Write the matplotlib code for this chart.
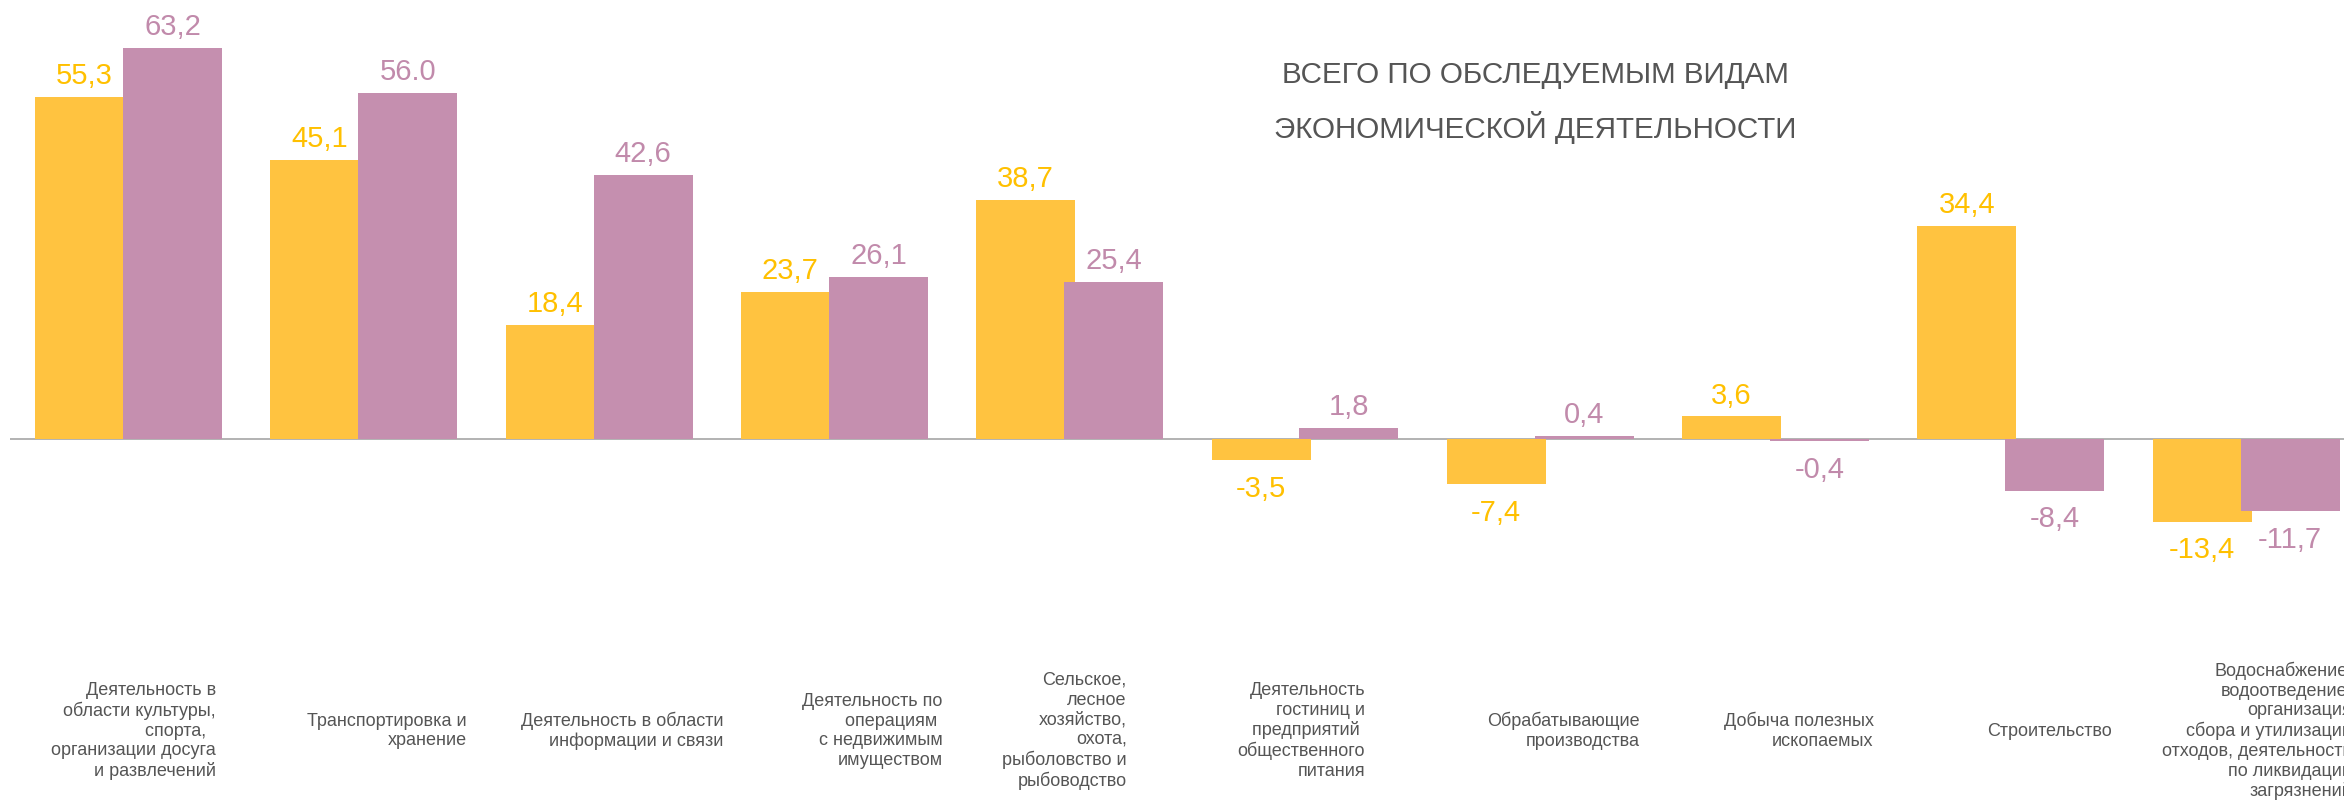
import matplotlib
matplotlib.use("Agg")
import matplotlib.pyplot as plt
import numpy as np

# ---------------- data ----------------
categories = [
    "Деятельность в\nобласти культуры,\nспорта,  \nорганизации досуга\nи развлечений",
    "Транспортировка и\nхранение",
    "Деятельность в области\nинформации и связи",
    "Деятельность по\nоперациям \nс недвижимым\nимуществом",
    "Сельское,\nлесное\nхозяйство,\nохота,\nрыболовство и\nрыбоводство",
    "Деятельность\nгостиниц и\nпредприятий \nобщественного\nпитания",
    "Обрабатывающие\nпроизводства",
    "Добыча полезных\nископаемых",
    "Строительство",
    "Водоснабжение;\nводоотведение,\nорганизация\nсбора и утилизации\nотходов, деятельность\nпо ликвидации\nзагрязнений",
]
series_a = [55.3, 45.1, 18.4, 23.7, 38.7, -3.5, -7.4, 3.6, 34.4, -13.4]
series_b = [63.2, 56.0, 42.6, 26.1, 25.4, 1.8, 0.4, -0.4, -8.4, -11.7]
labels_a = ["55,3", "45,1", "18,4", "23,7", "38,7", "-3,5", "-7,4", "3,6", "34,4", "-13,4"]
labels_b = ["63,2", "56.0", "42,6", "26,1", "25,4", "1,8", "0,4", "-0,4", "-8,4", "-11,7"]
title_lines = ["ВСЕГО ПО ОБСЛЕДУЕМЫМ ВИДАМ", "ЭКОНОМИЧЕСКОЙ ДЕЯТЕЛЬНОСТИ"]

# ---------------- style / layout ----------------
W, H, DPI = 2344, 802, 100
col_a_bar, col_b_bar = "#FFC340", "#C58FAF"
col_a_txt, col_b_txt = "#FFC000", "#C18AAB"
txt_gray = "#555555"
FONT = ["Liberation Sans", "DejaVu Sans"]
plt.rcParams["font.family"] = FONT

px_per_group = 235.3
center0_px = 128.5
zero_px = 438.7
px_per_unit = 6.18
left_px = 10

bar_w = 99 / px_per_group
offset = 44 / px_per_group
# right edge of each category label relative to group centre (px)
label_right_off_px = [87.5, 103, 124, 108, 57, 60, 99, 98, 101, 106]
label_center_y_px = 731

fig = plt.figure(figsize=(W / DPI, H / DPI), dpi=DPI)
ax = fig.add_axes([left_px / W, 0, 1 - left_px / W, 1])
x_left = (left_px - center0_px) / px_per_group
x_right = (W - center0_px) / px_per_group
ax.set_xlim(x_left, x_right)
ax.set_ylim(-(H - zero_px) / px_per_unit, zero_px / px_per_unit)
ax.axis("off")

x = np.arange(len(categories))
ax.axhline(0, color="#A6A6A6", lw=1.2, zorder=1)
bars_a = ax.bar(x - offset, series_a, width=bar_w, color=col_a_bar, zorder=2)
bars_b = ax.bar(x + offset, series_b, width=bar_w, color=col_b_bar, zorder=3)

def annotate(bars, vals, labels, color):
    for b, v, lab in zip(bars, vals, labels):
        cx = b.get_x() + b.get_width() / 2
        if v >= 0:
            ax.annotate(lab, (cx, v), xytext=(0, 5), textcoords="offset points",
                        ha="center", va="bottom", fontsize=21, color=color, zorder=5)
        else:
            ax.annotate(lab, (cx, v), xytext=(0, -10.5), textcoords="offset points",
                        ha="center", va="top", fontsize=21, color=color, zorder=5)

annotate(bars_a, series_a, labels_a, col_a_txt)
annotate(bars_b, series_b, labels_b, col_b_txt)

# category labels
y_lab = (zero_px - label_center_y_px) / px_per_unit
for i, (cat, off) in enumerate(zip(categories, label_right_off_px)):
    ax.text(i + off / px_per_group, y_lab, cat, ha="right", va="center",
            multialignment="right", fontsize=13, color=txt_gray,
            linespacing=1.2, clip_on=False)

# title
fig.text(1535 / W, 1 - 75 / H, title_lines[0], ha="center", va="center",
         fontsize=21.3, color=txt_gray)
fig.text(1535 / W, 1 - 127 / H, title_lines[1], ha="center", va="center",
         fontsize=21.3, color=txt_gray)

fig.savefig("out.png", dpi=DPI, facecolor="white")
